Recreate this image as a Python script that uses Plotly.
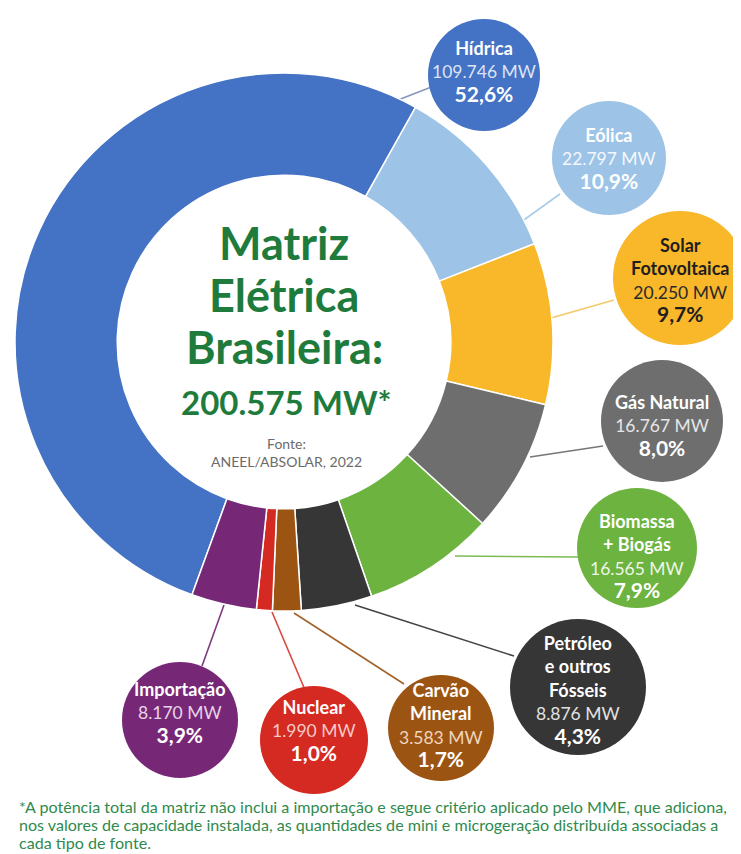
import plotly.graph_objects as go

# ---------------- data ----------------
sources = ["Hídrica", "Eólica", "Solar Fotovoltaica", "Gás Natural", "Biomassa + Biogás",
           "Petróleo e outros Fósseis", "Carvão Mineral", "Nuclear", "Importação"]
bubble_names = ["Hídrica", "Eólica", "Solar<br>Fotovoltaica", "Gás Natural", "Biomassa<br>+ Biogás",
                "Petróleo<br>e outros<br>Fósseis", "Carvão<br>Mineral", "Nuclear", "Importação"]
capacity_mw = [109746, 22797, 20250, 16767, 16565, 8876, 3583, 1990, 8170]
colors = ["#4472C4", "#9DC3E6", "#F9B72A", "#6E6E6E", "#6CB33F",
          "#363636", "#9C5412", "#D42A22", "#762877"]
line_colors = ["#8797BF", "#A9CCEA", "#F5C96A", "#777777", "#7DBB55",
               "#444444", "#A3622A", "#D8483F", "#7E3A7F"]
text_main = ["white", "white", "#1E1E1E", "white", "white", "white", "white", "white", "white"]
text_sub = ["#DCE4F4", "#F4F8FC", "#2A2A2A", "#E6E6E6", "#EEF6E8", "#E2E2E2", "#F0D6BE", "#F6C9C6", "#E8D4E8"]

center_title_lines = ["Matriz", "Elétrica", "Brasileira:"]
center_total = "200.575 MW*"
center_source = "Fonte:<br>ANEEL/ABSOLAR, 2022"
footnote_lines = [
    "*A potência total da matriz não inclui a importação e segue critério aplicado pelo MME, que adiciona,",
    "nos valores de capacidade instalada, as quantidades de mini e microgeração distribuída associadas a",
    "cada tipo de fonte.",
]

# ---------------- layout helpers (pixel positions in the 741x854 window) ----------------
OFF = 8                      # default page (body) margin around the plot div
FIG_W, FIG_H = 741 - OFF, 854 - OFF
CX, CY, R = 284, 342, 269

# bubble centers / radii (px)
bubbles = [(484, 75, 56), (609, 158, 57), (680, 278, 67), (662, 421, 61), (637, 548, 60),
           (578, 687, 68), (441, 728, 53), (314, 740, 54), (180, 720, 58)]
# visual center of the text block inside each bubble (px)
text_cy = [71, 158, 280, 425, 556, 690, 725, 730, 712]
# leader lines (start px, end px)
leaders = [((398, 100), (434, 86)), ((521, 222), (560, 194)), ((551, 318), (614, 300)),
           ((530, 457), (603, 446)), ((455, 556), (578, 557)), ((355, 605), (514, 656)),
           ((294, 613), (404, 684)), ((272, 612), (305, 690)), ((224, 605), (202, 666))]
title_y = [243, 295, 347]
footnote_y = [806, 824, 842]


def px(x):
    return (x - OFF) / FIG_W


def py(y):
    return 1 - (y - OFF) / FIG_H


total = sum(capacity_mw)

fig = go.Figure()
fig.add_trace(go.Pie(
    labels=sources, values=capacity_mw, sort=False, direction="clockwise", rotation=200,
    hole=0.62, marker=dict(colors=colors, line=dict(color="white", width=1.5)),
    textinfo="none", hoverinfo="skip", showlegend=False,
    domain=dict(x=[px(CX - R), px(CX + R)], y=[py(CY + R), py(CY - R)]),
))

shapes = []
annotations = []
for i, name in enumerate(sources):
    (x0, y0), (x1, y1) = leaders[i]
    shapes.append(dict(type="line", xref="paper", yref="paper", x0=px(x0), y0=py(y0), x1=px(x1), y1=py(y1),
                       line=dict(color=line_colors[i], width=1.6), layer="below"))
for i, name in enumerate(sources):
    bx, by, br = bubbles[i]
    shapes.append(dict(type="circle", xref="paper", yref="paper",
                       x0=px(bx - br), x1=px(bx + br), y0=py(by + br), y1=py(by - br),
                       fillcolor=colors[i], line=dict(color=colors[i], width=0), layer="above"))
    mw = f"{capacity_mw[i]:,}".replace(",", ".") + " MW"
    pct = f"{capacity_mw[i] / total * 100:.1f}".replace(".", ",") + "%"
    txt = (f"<b>{bubble_names[i]}</b><br><span style='color:{text_sub[i]};font-size:17.5px'>{mw}</span><br>"
           f"<b><span style='font-size:21px'>{pct}</span></b>")
    annotations.append(dict(x=px(bx), y=py(text_cy[i]), xref="paper", yref="paper", text=txt,
                            showarrow=False, xanchor="center", yanchor="middle", align="center",
                            font=dict(family="Lato", size=18, color=text_main[i])))

for line, ty in zip(center_title_lines, title_y):
    annotations.append(dict(x=px(CX), y=py(ty), xref="paper", yref="paper", text=f"<b>{line}</b>",
                            showarrow=False, xanchor="center", yanchor="middle",
                            font=dict(family="Lato", size=45, color="#1E7B3C")))
annotations.append(dict(x=px(CX + 2), y=py(402), xref="paper", yref="paper", text=f"<b>{center_total}</b>",
                        showarrow=False, xanchor="center", yanchor="middle",
                        font=dict(family="Lato", size=33, color="#1E7B3C")))
annotations.append(dict(x=px(CX + 2), y=py(452), xref="paper", yref="paper", text=center_source,
                        showarrow=False, xanchor="center", yanchor="middle",
                        font=dict(family="Lato", size=14, color="#6B6B6B")))
for line, fy in zip(footnote_lines, footnote_y):
    annotations.append(dict(x=px(17), y=py(fy), xref="paper", yref="paper", text=line,
                            showarrow=False, xanchor="left", yanchor="middle", align="left",
                            font=dict(family="Lato", size=16.1, color="#2F8A4C")))

fig.update_layout(
    width=FIG_W, height=FIG_H, margin=dict(l=0, r=0, t=0, b=0),
    paper_bgcolor="white", plot_bgcolor="white",
    shapes=shapes, annotations=annotations,
)
fig.write_html("out.html")
